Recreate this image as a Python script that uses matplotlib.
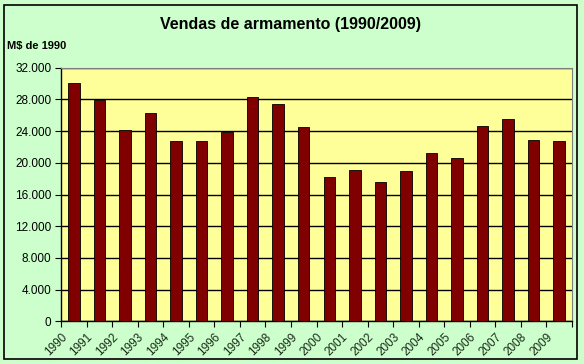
import matplotlib
matplotlib.use("Agg")
import matplotlib.pyplot as plt
from matplotlib.patches import Rectangle
from matplotlib.ticker import FuncFormatter

years = [str(y) for y in range(1990, 2010)]
sales = [30100, 27900, 24200, 26300, 22750, 22750, 23900, 28300, 27400, 24500,
         18150, 19100, 17550, 18950, 21200, 20550, 24600, 25500, 22850, 22750]
yticks = [0, 4000, 8000, 12000, 16000, 20000, 24000, 28000, 32000]

plt.rcParams['font.family'] = ['Liberation Sans', 'DejaVu Sans']

fig = plt.figure(figsize=(5.84, 3.64), dpi=100)
fig.patch.set_facecolor('#ccffcc')
fig.patches.append(Rectangle((4 / 584, 5 / 364), 573 / 584, 354 / 364, transform=fig.transFigure,
                             fill=False, edgecolor='black', linewidth=1.2))

ax = fig.add_axes([61 / 584, 1 - 321.3 / 364, 511 / 584, 253.6 / 364])
ax.set_facecolor('#ffff99')

x = list(range(len(years)))
ax.bar(x, sales, width=0.45, color='#800000', edgecolor='black', linewidth=0.6, zorder=3)

ax.set_xlim(-0.5, len(years) - 0.5)
ax.set_ylim(0, 32000)
ax.set_yticks(yticks)
ax.yaxis.set_major_formatter(FuncFormatter(lambda v, p: f"{int(v):,}".replace(",", ".")))
ax.yaxis.grid(True, color='black', linewidth=1.0, zorder=1)

ax.set_xticks([i - 0.5 for i in range(len(years) + 1)])
ax.set_xticklabels(years + [''], rotation=45, ha='right', rotation_mode='anchor')
ax.tick_params(axis='x', length=4, direction='out', labelsize=8.5, pad=3, labelcolor='#1a2a1a')
ax.tick_params(axis='y', length=4, direction='out', labelsize=8.5, pad=3)

for s in ['left', 'bottom']:
    ax.spines[s].set_color('black')
    ax.spines[s].set_linewidth(1.0)
for s in ['top', 'right']:
    ax.spines[s].set_color('#808080')
    ax.spines[s].set_linewidth(0.8)

fig.text(290 / 584, 1 - 24 / 364, 'Vendas de armamento (1990/2009)', ha='center', va='center',
         fontsize=11.5, fontweight='bold')
fig.text(7 / 584, 1 - 46 / 364, 'M$ de 1990', ha='left', va='center', fontsize=8, fontweight='bold')

fig.savefig('out.png', dpi=100, facecolor=fig.get_facecolor())
